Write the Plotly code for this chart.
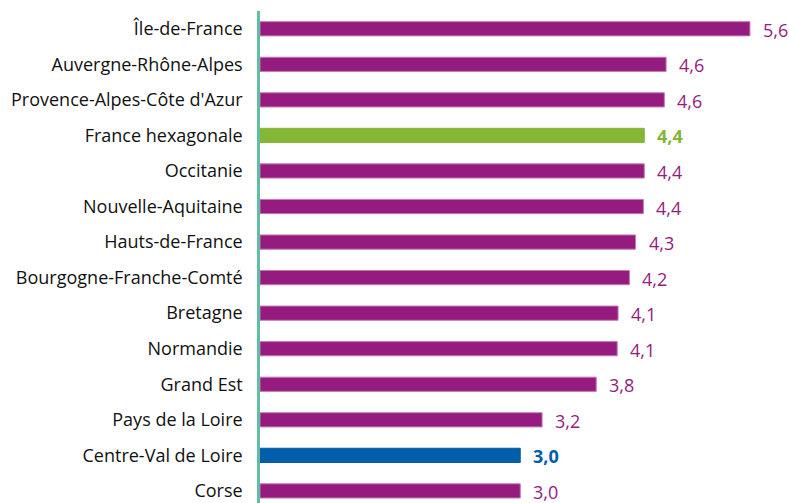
import plotly.graph_objects as go

regions = ["Île-de-France", "Auvergne-Rhône-Alpes", "Provence-Alpes-Côte d'Azur",
           "France hexagonale", "Occitanie", "Nouvelle-Aquitaine", "Hauts-de-France",
           "Bourgogne-Franche-Comté", "Bretagne", "Normandie", "Grand Est",
           "Pays de la Loire", "Centre-Val de Loire", "Corse"]
values = [5.61, 4.65, 4.63, 4.40, 4.40, 4.39, 4.30, 4.23, 4.10, 4.09, 3.85, 3.23, 2.98, 2.98]
labels = ["5,6", "4,6", "4,6", "4,4", "4,4", "4,4", "4,3", "4,2", "4,1", "4,1", "3,8", "3,2", "3,0", "3,0"]

PURPLE = "#951B7E"
GREEN = "#84B735"
BLUE = "#005EAA"
TEAL = "#5FBFA0"
FONT = "Open Sans, Lato, sans-serif"

colors = []
lines = []
bold = []
for r in regions:
    if r == "France hexagonale":
        colors.append(GREEN); lines.append(GREEN); bold.append(True)
    elif r == "Centre-Val de Loire":
        colors.append(BLUE); lines.append(BLUE); bold.append(True)
    else:
        colors.append(PURPLE); lines.append("#C47AB5"); bold.append(False)

fig = go.Figure()
fig.add_trace(go.Bar(
    x=values, y=regions, orientation="h",
    marker=dict(color=colors, line=dict(color=lines, width=1)),
    width=0.4, hoverinfo="skip",
))

for r, v, lab, c, b in zip(regions, values, labels, colors, bold):
    fig.add_annotation(
        x=v, y=r, xref="x", yref="y", text=f"<b>{lab}</b>" if b else lab,
        showarrow=False, xanchor="left", yanchor="middle", xshift=11, yshift=-1,
        font=dict(family=FONT, size=18, color=c),
    )

fig.update_layout(
    width=789, height=503,
    margin=dict(l=260, r=5, t=11, b=0, autoexpand=False),
    paper_bgcolor="white", plot_bgcolor="white",
    showlegend=False,
    font=dict(family=FONT, size=16, color="#111111"),
)
fig.update_xaxes(range=[0, 6], visible=False, showgrid=False, zeroline=False)
fig.update_yaxes(
    type="category", categoryorder="array", categoryarray=regions,
    range=[13.34, -0.5], showgrid=False, zeroline=False,
    showline=True, linecolor=TEAL, linewidth=2.5,
    ticks="", ticklabelstandoff=11,
    tickfont=dict(family=FONT, size=18, color="#111111"),
)

fig.write_html("out.html", config={"displayModeBar": False},
               post_script="document.body.style.margin='0';document.body.style.overflow='hidden';")
